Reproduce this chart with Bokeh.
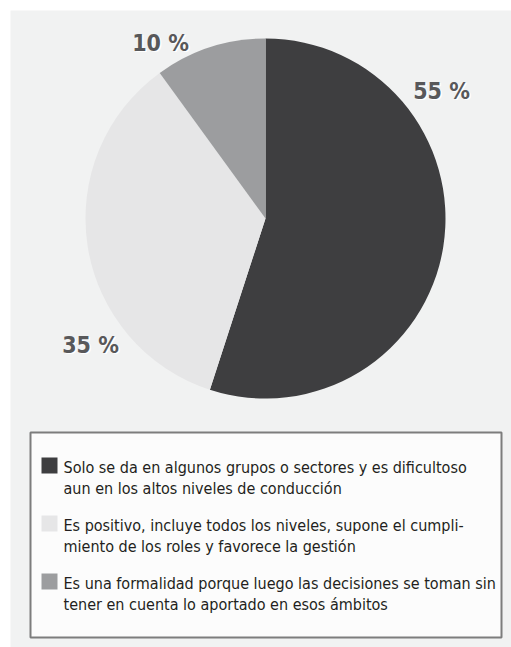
import math
from bokeh.plotting import figure
from bokeh.models import Range1d, ColumnDataSource
from bokeh.core.properties import value
from bokeh.embed import file_html
from bokeh.resources import INLINE

# ---- data ----
categories = [
    "Solo se da en algunos grupos o sectores y es dificultoso\naun en los altos niveles de conducción",
    "Es positivo, incluye todos los niveles, supone el cumpli-\nmiento de los roles y favorece la gestión",
    "Es una formalidad porque luego las decisiones se toman sin\ntener en cuenta lo aportado en esos ámbitos",
]
shares = [55, 35, 10]
pct_labels = ["55 %", "35 %", "10 %"]
colors = ["#3e3e40", "#e6e6e7", "#9c9d9f"]

# ---- layout (screen px within frame) ----
W, H = 501, 637
def sx(x):
    return x - 10
def sy(y):
    return 647 - y

p = figure(width=511, height=647, output_backend="svg", toolbar_location=None,
           x_range=Range1d(0, W), y_range=Range1d(0, H),
           min_border_left=10, min_border_top=10, min_border_right=0, min_border_bottom=0)
p.axis.visible = False
p.grid.visible = False
p.outline_line_color = None
p.background_fill_color = "#f1f2f2"
p.border_fill_color = "white"

# pie
cx, cy, r = sx(265), sy(218), 180
starts, ends = [], []
acc = 0.0
for s in shares:
    a0 = math.pi / 2 - 2 * math.pi * acc / 100
    acc += s
    a1 = math.pi / 2 - 2 * math.pi * acc / 100
    starts.append(a0)
    ends.append(a1)
src = ColumnDataSource(dict(start=starts, end=ends, color=colors))
p.wedge(x=cx, y=cy, radius=r, start_angle="start", end_angle="end",
        direction="clock", fill_color="color", line_color=None, source=src)

# percentage labels
label_pos = [(sx(441), sy(90)), (sx(90), sy(344)), (sx(160), sy(42))]
lx = [q[0] for q in label_pos]
ly = [q[1] for q in label_pos]
font = value("DejaVu Sans Condensed")
p.text(x=[v + 1.5 for v in lx], y=[v - 1.5 for v in ly], text=pct_labels,
       text_font=font, text_font_style="bold", text_font_size="23px",
       text_color="white", text_align="center", text_baseline="middle")
p.text(x=lx, y=ly, text=pct_labels,
       text_font=font, text_font_style="bold", text_font_size="23px",
       text_color="#58585a", text_align="center", text_baseline="middle")

# legend box
bx0, bx1, by0, by1 = sx(30), sx(501), sy(637), sy(432)
p.quad(left=bx0, right=bx1, bottom=by0, top=by1, fill_color="#fcfcfc",
       line_color="#7d7d7d", line_width=2)

item_tops = [457, 515, 573]
sw_x = [sx(49)] * 3
sw_y = [sy(t + 8) for t in item_tops]
p.rect(x=sw_x, y=sw_y, width=16, height=16, fill_color=colors, line_color=None)
p.text(x=[sx(63)] * 3, y=[sy(t) for t in item_tops], text=categories,
       text_font=font, text_font_size="16px", text_color="#231f20",
       text_align="left", text_baseline="top", text_line_height=1.15)

open("out.html", "w").write(file_html(p, INLINE))
